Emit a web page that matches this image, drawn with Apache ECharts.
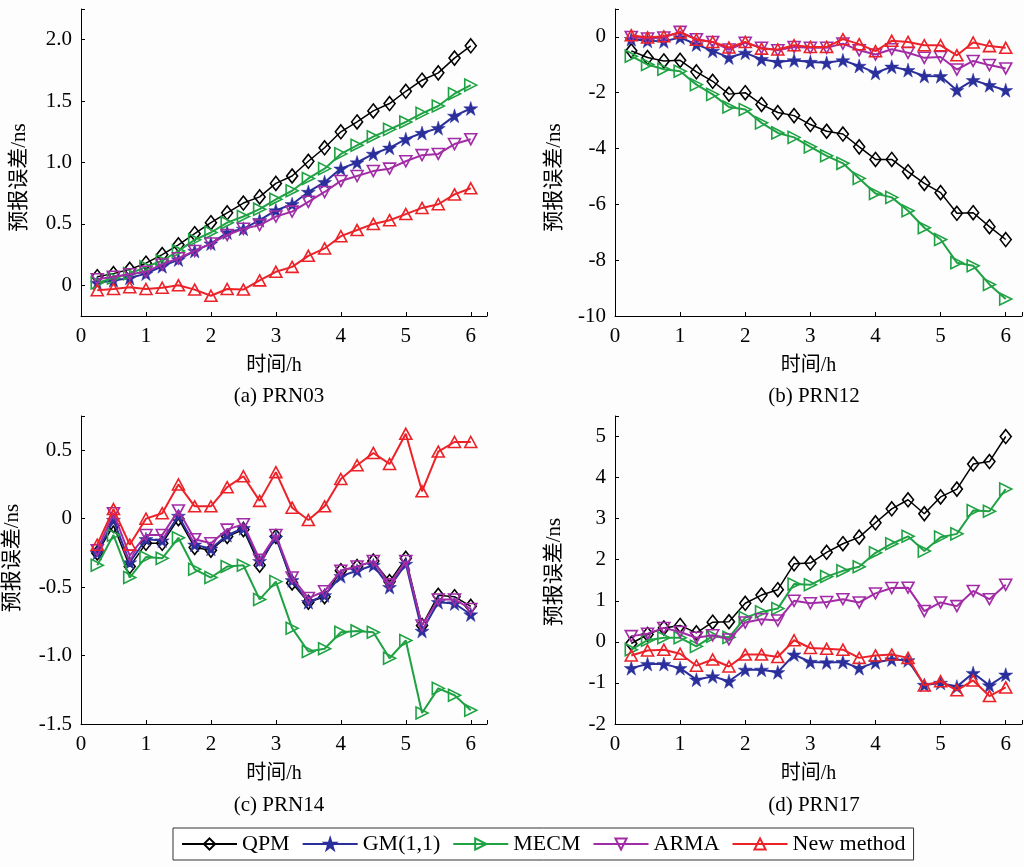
<!DOCTYPE html>
<html>
<head>
<meta charset="utf-8">
<script src="https://cdn.jsdelivr.net/npm/echarts@6/dist/echarts.min.js"></script>
<style>
html,body{margin:0;padding:0;background:#fdfdfd;}
#chart{width:1024px;height:867px;}
</style>
</head>
<body>
<div id="chart"></div>
<script>
// ---- data ----
const hours = [0.25,0.5,0.75,1,1.25,1.5,1.75,2,2.25,2.5,2.75,3,3.25,3.5,3.75,4,4.25,4.5,4.75,5,5.25,5.5,5.75,6];
const methods = ['QPM','GM(1,1)','MECM','ARMA','New method'];
const panelTitles = ['(a) PRN03','(b) PRN12','(c) PRN14','(d) PRN17'];

const a_QPM  = [0.07,0.095,0.13,0.18,0.25,0.33,0.42,0.51,0.59,0.67,0.72,0.83,0.89,1.01,1.12,1.25,1.33,1.42,1.48,1.58,1.67,1.73,1.85,1.95];
const a_GM   = [0.02,0.04,0.06,0.095,0.155,0.21,0.28,0.34,0.43,0.46,0.53,0.61,0.66,0.76,0.84,0.95,1.00,1.07,1.12,1.19,1.24,1.28,1.38,1.44];
const a_MECM = [0.02,0.06,0.095,0.15,0.20,0.28,0.37,0.43,0.51,0.56,0.62,0.70,0.77,0.87,0.95,1.07,1.14,1.21,1.27,1.33,1.40,1.46,1.56,1.63];
const a_ARMA = [0.05,0.07,0.09,0.11,0.17,0.22,0.28,0.34,0.41,0.46,0.49,0.56,0.60,0.68,0.76,0.85,0.89,0.93,0.95,1.01,1.06,1.07,1.15,1.19];
const a_NEW  = [-0.04,-0.03,-0.015,-0.03,-0.02,0.0,-0.035,-0.085,-0.03,-0.035,0.04,0.11,0.15,0.24,0.30,0.40,0.45,0.50,0.53,0.58,0.63,0.66,0.74,0.79];

const b_QPM  = [-0.5,-0.74,-0.86,-0.84,-1.25,-1.59,-2.05,-2.0,-2.42,-2.71,-2.82,-3.14,-3.38,-3.48,-3.94,-4.39,-4.39,-4.83,-5.25,-5.58,-6.32,-6.30,-6.80,-7.26];
const b_GM   = [-0.08,-0.14,-0.16,-0.02,-0.27,-0.50,-0.74,-0.57,-0.80,-0.90,-0.84,-0.90,-0.93,-0.84,-1.04,-1.29,-1.07,-1.19,-1.40,-1.41,-1.91,-1.55,-1.73,-1.91];
const b_MECM = [-0.69,-0.99,-1.16,-1.23,-1.71,-2.06,-2.51,-2.60,-3.08,-3.44,-3.60,-3.94,-4.26,-4.53,-5.07,-5.61,-5.75,-6.23,-6.84,-7.26,-8.09,-8.20,-8.87,-9.39];
const b_ARMA = [0.0,-0.06,-0.02,0.18,-0.08,-0.18,-0.45,-0.21,-0.39,-0.48,-0.36,-0.39,-0.39,-0.24,-0.48,-0.63,-0.44,-0.57,-0.75,-0.72,-1.17,-0.86,-1.01,-1.13];
const b_NEW  = [0.06,-0.02,0.02,0.16,-0.10,-0.18,-0.38,-0.18,-0.42,-0.45,-0.30,-0.36,-0.36,-0.08,-0.26,-0.51,-0.14,-0.18,-0.30,-0.30,-0.66,-0.20,-0.33,-0.39];

const c_QPM  = [-0.25,-0.05,-0.35,-0.18,-0.18,0.0,-0.21,-0.23,-0.13,-0.08,-0.34,-0.13,-0.47,-0.61,-0.57,-0.38,-0.35,-0.31,-0.46,-0.29,-0.78,-0.56,-0.57,-0.64];
const c_GM   = [-0.25,-0.01,-0.32,-0.15,-0.16,0.02,-0.19,-0.22,-0.12,-0.07,-0.31,-0.14,-0.45,-0.61,-0.56,-0.42,-0.38,-0.34,-0.50,-0.33,-0.82,-0.61,-0.62,-0.70];
const c_MECM = [-0.34,-0.12,-0.43,-0.28,-0.29,-0.14,-0.37,-0.43,-0.35,-0.34,-0.59,-0.46,-0.80,-0.97,-0.95,-0.83,-0.82,-0.83,-1.02,-0.89,-1.42,-1.24,-1.29,-1.40];
const c_ARMA = [-0.23,0.04,-0.27,-0.12,-0.12,0.06,-0.15,-0.18,-0.08,-0.04,-0.30,-0.12,-0.43,-0.58,-0.53,-0.38,-0.35,-0.31,-0.48,-0.31,-0.78,-0.59,-0.59,-0.66];
const c_NEW  = [-0.19,0.07,-0.19,0.0,0.04,0.25,0.09,0.09,0.23,0.31,0.13,0.34,0.08,-0.01,0.09,0.29,0.39,0.48,0.40,0.62,0.20,0.49,0.56,0.56];

const d_QPM  = [-0.04,0.18,0.34,0.40,0.22,0.48,0.49,0.94,1.14,1.27,1.90,1.92,2.18,2.39,2.55,2.90,3.24,3.46,3.12,3.53,3.72,4.33,4.39,5.0];
const d_GM   = [-0.64,-0.54,-0.54,-0.64,-0.92,-0.84,-0.96,-0.68,-0.68,-0.74,-0.31,-0.49,-0.50,-0.49,-0.64,-0.50,-0.43,-0.45,-1.05,-1.00,-1.09,-0.76,-1.06,-0.80];
const d_MECM = [-0.19,0.04,0.10,0.10,-0.11,0.14,0.11,0.59,0.73,0.81,1.41,1.39,1.59,1.73,1.83,2.17,2.39,2.57,2.21,2.55,2.63,3.20,3.18,3.72];
const d_ARMA = [0.14,0.20,0.34,0.24,0.10,0.16,0.06,0.47,0.55,0.52,1.00,0.94,0.97,1.04,0.96,1.18,1.31,1.32,0.75,0.96,0.87,1.24,1.04,1.39];
const d_NEW  = [-0.33,-0.21,-0.19,-0.29,-0.58,-0.43,-0.60,-0.31,-0.31,-0.37,0.04,-0.15,-0.17,-0.19,-0.39,-0.33,-0.31,-0.39,-1.06,-0.96,-1.18,-0.94,-1.32,-1.11];

// axis ranges and ticks
const xRange = [0, 6.25];
const xTickValues = [0,1,2,3,4,5,6,6.25];
const xLabelValues = [0,1,2,3,4,5,6];
const yRanges = [[-0.25,2.25],[-10,1],[-1.5,0.75],[-2,5.5]];
const yTickValues = [[0,0.5,1,1.5,2,2.25],[-10,-8,-6,-4,-2,0,1],[-1.5,-1,-0.5,0,0.5,0.75],[-2,-1,0,1,2,3,4,5,5.5]];
const yLabelValues = [[0,0.5,1,1.5,2],[-10,-8,-6,-4,-2,0],[-1.5,-1,-0.5,0,0.5],[-2,-1,0,1,2,3,4,5]];
const yDecimals = [1,0,1,0];

const panelData = [
  [a_QPM,a_GM,a_MECM,a_ARMA,a_NEW],
  [b_QPM,b_GM,b_MECM,b_ARMA,b_NEW],
  [c_QPM,c_GM,c_MECM,c_ARMA,c_NEW],
  [d_QPM,d_GM,d_MECM,d_ARMA,d_NEW]
];

// ---- styles ----
const colors = ['#000000','#2a2f9c','#1fa243','#a22ca6','#ec2229'];
const STAR = 'path://M50,0 L61.2,34.5 L97.6,34.5 L68.2,55.9 L79.4,90.5 L50,69.1 L20.6,90.5 L31.8,55.9 L2.4,34.5 L38.8,34.5 Z';
const symbols = ['diamond', STAR, 'triangle', 'triangle', 'triangle'];
const symbolSizes = [[11,14], 14, [12,12], [12,11], [12,11]];
const symbolRotates = [0, 0, -90, 180, 0];
const filled = [false, true, false, false, false];
const lineWidths = [1.5, 2, 2, 2, 2];

const FONT = "'Liberation Serif', 'Noto Sans CJK SC', serif";
const grids = [
  {left:81, top:9, width:406, height:307},
  {left:615, top:9, width:407, height:307},
  {left:81, top:416, width:406, height:308},
  {left:615, top:416, width:407, height:308}
];
const titlePos = [
  {left:274, top:381},
  {left:809, top:381},
  {left:274, top:790},
  {left:809, top:790}
];
const yNameGap = [51, 50, 58, 50];
const yNamePad = [[0,30,0,0],[0,30,0,0],[0,0,0,24],[0,4,0,0]];

const axisLineStyle = {show:true, onZero:false, lineStyle:{color:'#000', width:1}};

const xAxes = grids.map((g,i)=>({
  type:'value', gridIndex:i, min:xRange[0], max:xRange[1],
  axisLine:axisLineStyle,
  axisTick:{show:true, inside:true, length:4, customValues:xTickValues, lineStyle:{color:'#000'}},
  axisLabel:{customValues:xLabelValues, color:'#000', fontFamily:FONT, fontSize:21, margin:10,
    formatter:v=>String(v)},
  splitLine:{show:false},
  name:'时间/h', nameLocation:'middle', nameGap:40,
  nameTextStyle:{color:'#000', fontFamily:FONT, fontSize:20, padding:[0,20,0,0]}
}));

const yAxes = grids.map((g,i)=>({
  type:'value', gridIndex:i, min:yRanges[i][0], max:yRanges[i][1],
  axisLine:axisLineStyle,
  axisTick:{show:true, inside:true, length:4, customValues:yTickValues[i], lineStyle:{color:'#000'}},
  axisLabel:{customValues:yLabelValues[i], color:'#000', fontFamily:FONT, fontSize:21, margin:9,
    formatter:v=> v===0 ? '0' : v.toFixed(yDecimals[i])},
  splitLine:{show:false},
  name:'预报误差/ns', nameLocation:'middle', nameGap:yNameGap[i], nameRotate:90,
  nameTextStyle:{color:'#000', fontFamily:FONT, fontSize:21, padding:yNamePad[i]}
}));

const series = [];
panelData.forEach((sets, p)=>{
  sets.forEach((vals, k)=>{
    series.push({
      name: methods[k], type:'line', xAxisIndex:p, yAxisIndex:p,
      data: hours.map((h,j)=>[h, vals[j]]),
      symbol: symbols[k], symbolSize: symbolSizes[k], symbolRotate: symbolRotates[k],
      showAllSymbol:true,
      lineStyle:{color:colors[k], width:lineWidths[k]},
      itemStyle:{color: filled[k] ? colors[k] : 'rgba(255,255,255,0)', borderColor:colors[k], borderWidth: filled[k] ? 0.5 : 1.6},
      emphasis:{disabled:true},
      animation:false, z: 2 + k
    });
  });
});

const titles = panelTitles.map((t,i)=>({
  text:t, left:titlePos[i].left, top:titlePos[i].top, textAlign:'center',
  textStyle:{color:'#000', fontFamily:FONT, fontSize:21, fontWeight:'normal'}
}));

const chart = echarts.init(document.getElementById('chart'), null, {renderer:'canvas'});
chart.setOption({
  backgroundColor:'#fdfdfd',
  animation:false,
  title: titles,
  grid: grids,
  xAxis: xAxes,
  yAxis: yAxes,
  legend:{
    data: methods, left:173, top:828, orient:'horizontal',
    padding:[5,8,5,8], itemGap:12, itemWidth:55, itemHeight:14,
    borderColor:'#333', borderWidth:1, backgroundColor:'#fff',
    textStyle:{color:'#000', fontFamily:FONT, fontSize:22},
    selectedMode:false
  },
  series: series
});
</script>
</body>
</html>
